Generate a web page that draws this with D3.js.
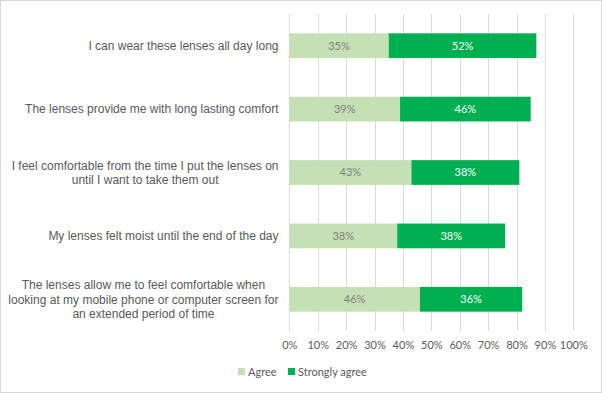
<!DOCTYPE html>
<html>
<head>
<meta charset="utf-8">
<script src="https://cdn.jsdelivr.net/npm/d3@7"></script>
<style>
  body { margin: 0; background: #fff; }
  svg { display: block; }
</style>
</head>
<body>
<script>
// survey statements (line breaks follow the original wrapping)
const categories = [
    "I can wear these lenses all day long",
    "The lenses provide me with long lasting comfort",
    "I feel comfortable from the time I put the lenses on\nuntil I want to take them out",
    "My lenses felt moist until the end of the day",
    "The lenses allow me to feel comfortable when\nlooking at my mobile phone or computer screen for\nan extended period of time"
]
const agree = [0.35, 0.39, 0.43, 0.38, 0.46]
const stronglyAgree = [0.52, 0.46, 0.38, 0.38, 0.36]
const seriesNames = ["Agree", "Strongly agree"]
const ticks = [0, 0.1, 0.2, 0.3, 0.4, 0.5, 0.6, 0.7, 0.8, 0.9, 1.0]

const m = {
    width: 602,
    height: 393,
    left: 289.3,
    right: 573.3,
    top: 14,
    bottom: 331
}
const colors = ['#c5e0b4', '#00b050']
const labelColors = ['#7f7f7f', '#ffffff']
const numFont = "Lato, 'Liberation Sans', sans-serif"

const svg = d3.select("body").append('svg')
    .attr('width', m.width)
    .attr('height', m.height)

// chart border
svg.append('rect')
    .attr('x', 0.5).attr('y', 0.5)
    .attr('width', m.width - 1).attr('height', m.height - 1)
    .attr('fill', 'white')
    .attr('stroke', '#d9d9d9')

const xScale = d3.scaleLinear()
    .domain([0, 1])
    .range([m.left, m.right])

const yScale = d3.scaleBand()
    .domain(categories)
    .range([m.top, m.bottom])
    .paddingInner(0.61)
    .paddingOuter(0.305)

// vertical gridlines
svg.append('g')
    .selectAll('line')
    .data(ticks)
    .enter()
    .append('line')
    .attr('x1', d => Math.round(xScale(d)) + 0.5)
    .attr('x2', d => Math.round(xScale(d)) + 0.5)
    .attr('y1', m.top)
    .attr('y2', m.bottom)
    .attr('stroke', '#d9d9d9')

// x axis tick labels
const xAxis = d3.axisBottom(xScale)
    .tickValues(ticks)
    .tickFormat(d3.format('.0%'))
    .tickSize(0)
    .tickPadding(0)

const gx = svg.append('g')
    .attr('transform', 'translate(0,' + 341.5 + ')')
    .call(xAxis)
gx.select('.domain').remove()
gx.selectAll('text')
    .attr('fill', '#595959')
    .attr('font-family', numFont)
    .attr('font-size', 11)

// stack the two series
const rows = categories.map(function (c, i) {
    return { cat: c, Agree: agree[i], "Strongly agree": stronglyAgree[i] }
})
const stacked = d3.stack().keys(seriesNames)(rows)

const layers = svg.selectAll('.layer')
    .data(stacked)
    .enter()
    .append('g')
    .attr('class', 'layer')

layers.selectAll('rect')
    .data(function (d) { return d })
    .enter()
    .append('rect')
    .attr('x', d => xScale(d[0]))
    .attr('y', d => yScale(d.data.cat))
    .attr('width', d => xScale(d[1]) - xScale(d[0]))
    .attr('height', yScale.bandwidth())
    .attr('fill', function () { return colors[d3.select(this.parentNode).datum().index] })

// data labels in the middle of each segment
layers.selectAll('text')
    .data(function (d) { return d.map(v => ({ v: v, idx: d.index })) })
    .enter()
    .append('text')
    .attr('x', d => (xScale(d.v[0]) + xScale(d.v[1])) / 2)
    .attr('y', d => yScale(d.v.data.cat) + yScale.bandwidth() / 2)
    .attr('dy', '0.35em')
    .attr('text-anchor', 'middle')
    .attr('font-family', numFont)
    .attr('font-size', 11)
    .attr('fill', d => labelColors[d.idx])
    .text(d => d3.format('.0%')(d.v[1] - d.v[0]))

// category labels, right aligned and wrapped
const catLabels = svg.append('g')
    .selectAll('text')
    .data(categories)
    .enter()
    .append('text')
    .attr('text-anchor', 'middle')
    .attr('font-family', "'Liberation Sans', Arial, sans-serif")
    .attr('font-size', 12)
    .attr('fill', '#595959')

catLabels.each(function (d) {
    const lines = d.split('\n')
    const t = d3.select(this)
    const lh = 14.2
    const cy = yScale(d) + yScale.bandwidth() / 2
    const y0 = cy - (lines.length - 1) * lh / 2
    lines.forEach(function (ln, i) {
        t.append('tspan')
            .attr('y', y0 + i * lh)
            .attr('dy', '0.35em')
            .text(ln)
    })
    // measure widest line, center block so its right edge sits at 278.5
    let maxW = 0
    t.selectAll('tspan').each(function () {
        maxW = Math.max(maxW, this.getComputedTextLength())
    })
    t.selectAll('tspan').attr('x', 278.5 - maxW / 2)
})

// legend
const legend = svg.append('g')
    .selectAll('g')
    .data(seriesNames)
    .enter()
    .append('g')
    .attr('transform', (d, i) => 'translate(' + [238, 288][i] + ',' + 368 + ')')

legend.append('rect')
    .attr('width', 7)
    .attr('height', 7)
    .attr('fill', (d, i) => colors[i])

legend.append('text')
    .attr('x', 10)
    .attr('y', 4)
    .attr('dy', '0.35em')
    .attr('font-family', numFont)
    .attr('font-size', 11)
    .attr('fill', '#595959')
    .text(d => d)
</script>
</body>
</html>
